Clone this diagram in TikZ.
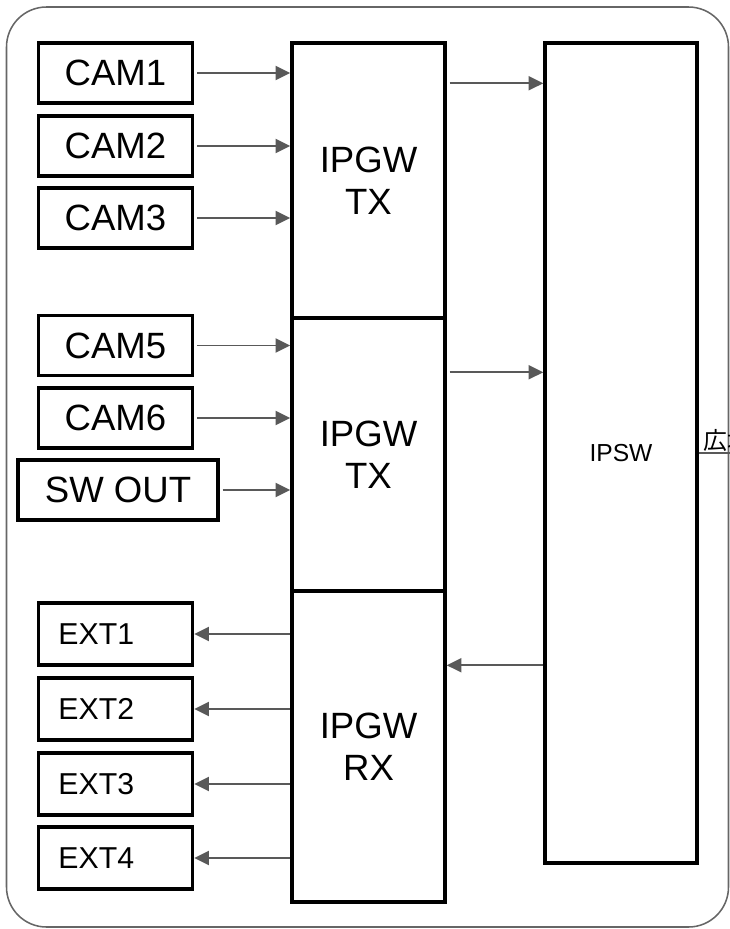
\documentclass[tikz,border=0pt]{standalone}
\usepackage{fontspec}
\setmainfont{Liberation Sans}
\newfontfamily\cjk{Noto Sans CJK JP}
\usetikzlibrary{arrows.meta, calc}
\usepackage{xcolor}
\definecolor{arrowgray}{HTML}{595959}
\definecolor{framegray}{HTML}{666666}

\begin{document}
\begin{tikzpicture}[x=0.025cm, y=-0.025cm,
  box/.style={draw, line width=2.4pt, inner sep=0pt},
  cam/.style={box, minimum width=3.85cm, minimum height=1.5cm, font=\fontsize{26}{30}\selectfont},
  ext/.style={box, minimum width=3.85cm, minimum height=1.55cm, inner xsep=0.5cm, text width=2.85cm, align=left, font=\fontsize{21.5}{26}\selectfont},
  gw/.style={box, minimum width=3.825cm, align=center, font=\fontsize{26}{30}\selectfont},
  arr/.style={draw=arrowgray, line width=1.4pt, -{Triangle[length=10.5pt, width=10pt]}}]
  \useasboundingbox (0,0) rectangle (730,929);
  \clip (0,0) rectangle (730,929);

  % outer frame
  \draw[framegray, line width=1.1pt, rounded corners=1cm] (6.5,7) rectangle (728.5,927);

  % sources
  \node[cam] (cam1) at (115.5,73) {CAM1};
  \node[cam] (cam2) at (115.5,146) {CAM2};
  \node[cam] (cam3) at (115.5,218) {CAM3};
  \node[cam] (cam5) at (115.5,345.5) {CAM5};
  \node[cam] (cam6) at (115.5,418) {CAM6};
  \node[cam, minimum width=5cm] (swout) at (118,490) {SW OUT};

  % outputs
  \node[ext] (ext1) at (115.5,634) {EXT1};
  \node[ext] (ext2) at (115.5,709) {EXT2};
  \node[ext] (ext3) at (115.5,784) {EXT3};
  \node[ext] (ext4) at (115.5,858) {EXT4};

  % gateways and switch
  \node[gw, minimum height=6.875cm] (tx1) at (368.5,180.5) {IPGW\\TX};
  \node[gw, minimum height=6.825cm] (tx2) at (368.5,454.5) {IPGW\\TX};
  \node[gw, minimum height=7.775cm] (rx) at (368.5,746.5) {IPGW\\RX};
  \node[box, minimum width=3.8cm, minimum height=20.5cm, font=\fontsize{17.5}{21}\selectfont] (ipsw) at (621,453) {IPSW};

  \foreach \n in {cam1, cam2, cam3, cam5, cam6, swout}
    \draw[arr, shorten <=2pt] (\n.east) -- (\n.east -| tx1.west);
  \foreach \n in {ext1, ext2, ext3, ext4}
    \draw[arr] (\n.east -| rx.west) -- (\n.east);

  \coordinate (o1) at ($(tx1.north east)+(0,42)$);
  \coordinate (o2) at ($(tx2.north east)+(0,56)$);
  \coordinate (i1) at ($(rx.north east)+(0,76)$);
  \draw[arr, shorten <=2pt] (o1) -- (o1 -| ipsw.west);
  \draw[arr, shorten <=2pt] (o2) -- (o2 -| ipsw.west);
  \draw[arr] (i1 -| ipsw.west) -- (i1);

  % wide area link
  \coordinate (wan) at (745,453);
  \draw[arrowgray, line width=1.2pt] (ipsw.east) -- (wan);
  \node[anchor=south west, inner xsep=3pt, inner ysep=1pt, font=\cjk\fontsize{17}{20}\selectfont] (wanlbl) at (ipsw.east) {広域};
\end{tikzpicture}
\end{document}
